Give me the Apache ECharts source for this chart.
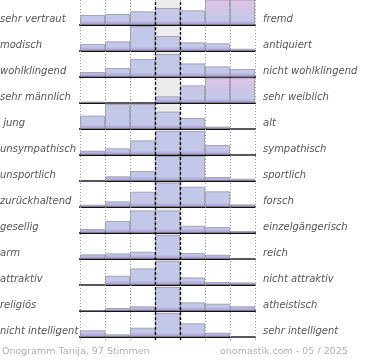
<!DOCTYPE html>
<html><head><meta charset="utf-8">
<script src="https://cdn.jsdelivr.net/npm/echarts@6/dist/echarts.min.js"></script>
<style>html,body{margin:0;padding:0;background:#fff}#c{width:370px;height:360px}</style>
</head><body><div id="c"></div>
<script>
const leftLabels = ["sehr vertraut","modisch","wohlklingend","sehr männlich"," jung","unsympathisch","unsportlich","zurückhaltend","gesellig","arm","attraktiv","religiös","nicht intelligent"];
const rightLabels = ["fremd","antiquiert","nicht wohlklingend","sehr weiblich","alt","sympathisch","sportlich","forsch","einzelgängerisch","reich","nicht attraktiv","atheistisch","sehr intelligent"];
const columns = ["1","2","3","4","5","6","7"];
const row1 = [10, 11, 13.7, 17, 14.7, 27, 28];
const row2 = [7, 9.7, 25, 15, 8.7, 7.7, 2.3];
const row3 = [5, 9, 18, 23, 13.6, 10.6, 8];
const row4 = [1.5, 0, 0, 6.7, 17.7, 27, 26];
const row5 = [13.4, 25, 25, 17.4, 11, 2.4, 0];
const row6 = [4.3, 6.7, 14.7, 24, 24, 10, 0];
const row7 = [0, 4.7, 10, 25, 25, 4, 2.3];
const row8 = [2.3, 5.7, 15.3, 24.5, 20.3, 15.7, 2.7];
const row9 = [4, 12, 22.6, 22.6, 7.3, 6, 2];
const row10 = [4.7, 5.6, 7.3, 24, 6, 4.3, 0];
const row11 = [0, 9.3, 16.6, 24.3, 7.6, 3, 2.6];
const row12 = [0.7, 3, 4.7, 24, 8.7, 7.3, 4.7];
const row13 = [6.7, 2.7, 9.3, 24, 13.7, 4.3, 0];
const footerLeft = "Onogramm Tanija, 97 Stimmen";
const footerRight = "onomastik.com - 05 / 2025";

const rows = [row1,row2,row3,row4,row5,row6,row7,row8,row9,row10,row11,row12,row13];
const YMAX = 25, ROWH = 26, LEFT = 80, WIDTH = 175;

function mix(a,b,t){return a.map((v,i)=>Math.round(v+(b[i]-v)*t));}
function rgb(c){return 'rgb('+c.join(',')+')';}
const BLUE=[195,200,233], PINK=[224,196,229], PURPLE=[166,150,208];

const chart = echarts.init(document.getElementById('c'), null, {renderer:'canvas'});
const grids=[], xAxes=[], yAxes=[], series=[], graphics=[];
rows.forEach((vals,i)=>{
  const top = i*ROWH;
  grids.push({left:LEFT, width:WIDTH, top:top, height:YMAX});
  xAxes.push({type:'category', gridIndex:i, data:columns, boundaryGap:true,
    axisLine:{show:true, onZero:false, lineStyle:{color:'#111', width:2}},
    axisTick:{show:false}, axisLabel:{show:false}, splitLine:{show:false},
    splitArea:{show:true, areaStyle:{color:['rgba(0,0,0,0)','rgba(0,0,0,0)','rgba(0,0,0,0)','#ececec','rgba(0,0,0,0)','rgba(0,0,0,0)','rgba(0,0,0,0)']}}, z:1});
  yAxes.push({type:'value', gridIndex:i, min:0, max:YMAX, show:false});
  const overflow = Math.max(...vals) > YMAX;
  series.push({type:'bar', xAxisIndex:i, yAxisIndex:i, barCategoryGap:0, barGap:0, clip:true, z:3,
    data: vals.map(v=>{
      const h = Math.min(v, YMAX);
      let topC = BLUE;
      if (overflow) topC = mix(BLUE, PINK, Math.max(0, Math.min(1, (h/YMAX - 0.5)/0.45)));
      const off = h>0 ? Math.max(0, 1 - 4.5/h) : 0;
      return {value:v, itemStyle:{
        color:new echarts.graphic.LinearGradient(0,0,0,1,[
          {offset:0,color:rgb(topC)},{offset:Math.max(0,off*0.5),color:rgb(mix(topC,BLUE,0.6))},{offset:off,color:rgb(BLUE)},{offset:1,color:rgb(PURPLE)}]),
        borderColor:'rgba(140,140,155,0.7)', borderWidth:1}};
    })});
  const yMid = top + YMAX - 5.5;
  graphics.push({type:'text', x:0, y:yMid, style:{text:leftLabels[i], fill:'#555', font:'italic 10px "DejaVu Sans"', align:'left', verticalAlign:'middle'}});
  graphics.push({type:'text', x:263, y:yMid, style:{text:rightLabels[i], fill:'#555', font:'italic 10px "DejaVu Sans"', align:'left', verticalAlign:'middle'}});
});
// overlay grid for vertical guide lines
const ov = rows.length;
grids.push({left:LEFT, width:WIDTH, top:0, height:340});
xAxes.push({type:'value', gridIndex:ov, min:0, max:7, interval:1, axisLine:{show:false}, axisTick:{show:false}, axisLabel:{show:false},
  splitLine:{show:true, showMinLine:true, showMaxLine:true, lineStyle:{color:'#999', width:1, type:[1,2]}}, z:2});
yAxes.push({type:'value', gridIndex:ov, min:0, max:1, show:false});
series.push({type:'line', xAxisIndex:ov, yAxisIndex:ov, data:[], z:10,
  markLine:{silent:true, symbol:['none','none'], label:{show:false}, lineStyle:{color:'#000', width:1.3, type:[3,2]},
    data:[{xAxis:3},{xAxis:4}]}});
graphics.push({type:'text', x:2, y:352, style:{text:footerLeft, fill:'#b0b0b0', font:'9.5px "DejaVu Sans"', align:'left', verticalAlign:'middle'}});
graphics.push({type:'text', x:220, y:352, style:{text:footerRight, fill:'#b0b0b0', font:'9.5px "DejaVu Sans"', align:'left', verticalAlign:'middle'}});

chart.setOption({animation:false, grid:grids, xAxis:xAxes, yAxis:yAxes, series:series, graphic:graphics});
</script></body></html>
